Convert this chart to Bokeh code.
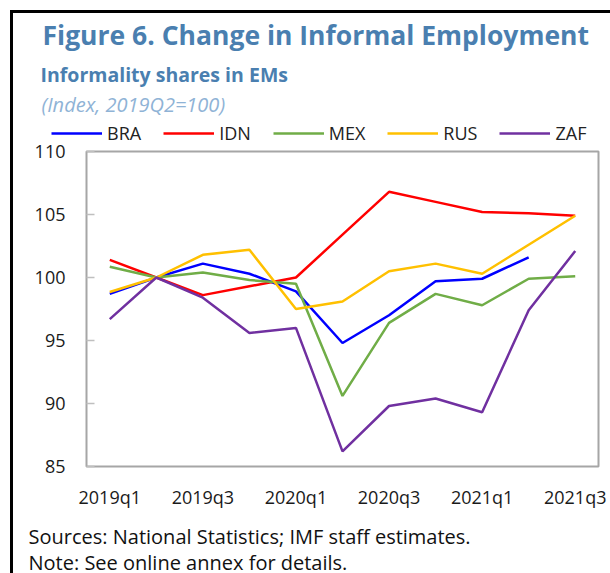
from bokeh.plotting import figure
from bokeh.layouts import column
from bokeh.models import Range1d, FixedTicker, Legend, LegendItem, Label
from bokeh.embed import file_html
from bokeh.resources import INLINE

nan = float("nan")

quarters = ["2019q1", "2019q2", "2019q3", "2019q4", "2020q1", "2020q2",
            "2020q3", "2020q4", "2021q1", "2021q2", "2021q3"]
tick_quarters = ["2019q1", "2019q3", "2020q1", "2020q3", "2021q1", "2021q3"]
y_ticks = [85, 90, 95, 100, 105, 110]

bra = [98.7, 100.0, 101.1, 100.3, 98.9, 94.8, 97.0, 99.7, 99.9, 101.6, nan]
idn = [101.4, 100.0, 98.6, 99.3, 100.0, 103.4, 106.8, 106.0, 105.2, 105.1, 104.9]
mex = [100.85, 100.0, 100.4, 99.8, 99.5, 90.6, 96.4, 98.7, 97.8, 99.9, 100.1]
rus = [98.85, 100.0, 101.8, 102.2, 97.5, 98.1, 100.5, 101.1, 100.3, 102.6, 104.9]
zaf = [96.7, 100.0, 98.4, 95.6, 96.0, 86.2, 89.8, 90.4, 89.3, 97.4, 102.1]

series = [("BRA", bra, "#0000ff"), ("IDN", idn, "#ff0000"), ("MEX", mex, "#70ad47"),
          ("RUS", rus, "#ffc000"), ("ZAF", zaf, "#7030a0")]

FONT = "Open Sans"
W = 597
HEAD_H, MAIN_H, FOOT_H = 134, 373, 62
OVERLAP = 9


def blank(h):
    f = figure(width=W, height=h, output_backend="svg", toolbar_location=None,
               x_range=Range1d(0, W), y_range=Range1d(h, 0),
               x_axis_location=None, y_axis_location=None,
               min_border_left=0, min_border_right=0, min_border_top=0,
               min_border_bottom=0)
    f.frame_align = False
    f.outline_line_color = None
    f.xgrid.visible = False
    f.ygrid.visible = False
    return f


xs = list(range(len(quarters)))

# ---- header: titles + legend
head = blank(HEAD_H)
head_texts = [
    ("Figure 6. Change in Informal Employment", 29, 21, "26.5px", "bold", "#4a7fb0"),
    ("Informality shares in EMs", 27, 61, "19.5px", "bold", "#4a7fb0"),
    ("(Index, 2019Q2=100)", 28, 91, "20px", "italic", "#8fb3d6"),
]
for t, x, y, size, style, color in head_texts:
    head.add_layout(Label(x=x, y=y, text=t, text_font=FONT, text_font_size=size,
                          text_font_style=style, text_color=color,
                          text_baseline="alphabetic"))

items = []
for name, vals, color in series:
    proxy = head.line(xs, vals, line_color=color, line_width=2.5, visible=False)
    items.append(LegendItem(label=name, renderers=[proxy]))
legend = Legend(items=items, orientation="horizontal", location=(38, 2),
                glyph_width=51, glyph_height=20, label_height=20,
                label_standoff=5, spacing=22, padding=0, margin=0,
                border_line_alpha=0, background_fill_alpha=0,
                inactive_fill_alpha=0,
                label_text_font=FONT, label_text_font_size="18px",
                label_text_color="#222222")
head.add_layout(legend, "center")

# ---- main chart
p = figure(width=W, height=MAIN_H, output_backend="svg", toolbar_location=None,
           x_range=Range1d(-0.5, len(quarters) - 0.5), y_range=Range1d(85, 110),
           min_border_left=73, min_border_right=12, min_border_top=13,
           min_border_bottom=45)
p.frame_align = False
p.styles = {"margin-top": f"-{OVERLAP}px"}
p.border_fill_alpha = 0
p.outline_line_color = "#a6a6a6"
p.outline_line_width = 2
p.xgrid.visible = False
p.ygrid.visible = False

for name, vals, color in series:
    p.line(xs, vals, line_color=color, line_width=2.5)

p.xaxis.ticker = FixedTicker(ticks=[quarters.index(q) for q in tick_quarters])
p.xaxis.major_label_overrides = {quarters.index(q): q for q in tick_quarters}
p.xaxis.major_tick_line_color = None
p.xaxis.minor_tick_line_color = None
p.xaxis.axis_line_color = None
p.xaxis.major_label_standoff = 12
p.xaxis.major_label_text_font = FONT
p.xaxis.major_label_text_font_size = "18px"
p.xaxis.major_label_text_color = "#1a1a1a"

p.yaxis.ticker = FixedTicker(ticks=y_ticks)
p.yaxis.minor_tick_line_color = None
p.yaxis.axis_line_color = None
p.yaxis.major_tick_in = 8
p.yaxis.major_tick_out = 0
p.yaxis.major_tick_line_color = "#bfbfbf"
p.yaxis.major_tick_line_width = 1.5
p.yaxis.major_label_standoff = 21
p.yaxis.major_label_text_font = FONT
p.yaxis.major_label_text_font_size = "18px"
p.yaxis.major_label_text_color = "#1a1a1a"

# ---- footer: notes
foot = blank(FOOT_H)
foot_texts = [
    ("Sources: National Statistics;  IMF staff estimates.", 15, 25),
    ("Note: See online annex for details.", 15, 51),
]
for t, x, y in foot_texts:
    foot.add_layout(Label(x=x, y=y, text=t, text_font=FONT, text_font_size="20px",
                          text_color="#111111", text_baseline="alphabetic"))

page = column(head, p, foot, spacing=0,
              styles={"border-left": "3px solid black", "border-top": "3px solid black",
                      "margin-left": "10px", "margin-top": "10px"})

open("out.html", "w").write(file_html(page, INLINE))
